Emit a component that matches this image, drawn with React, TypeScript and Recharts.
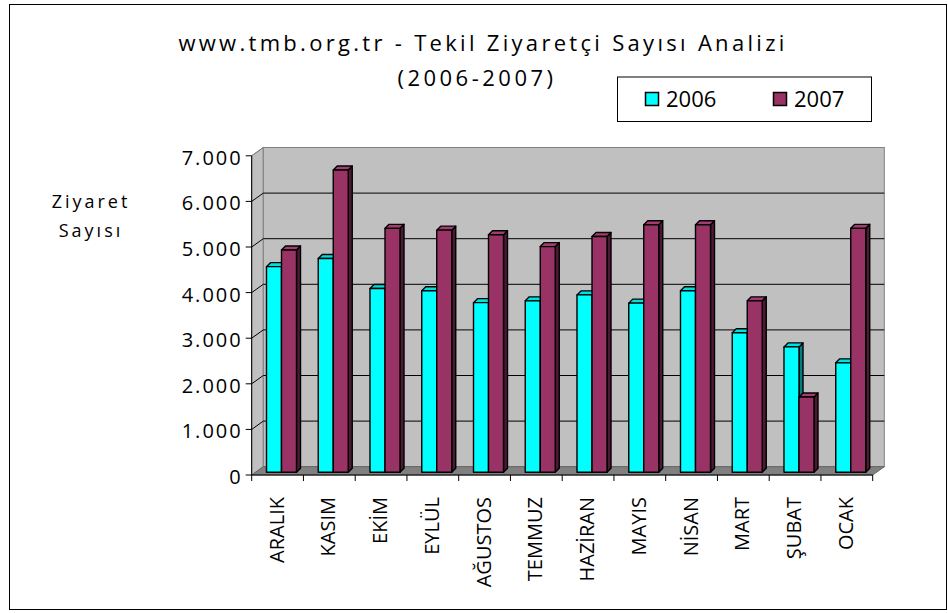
import { BarChart, Bar, XAxis, YAxis, CartesianGrid } from "recharts";

const MONTHS = ["ARALIK", "KASIM", "EKİM", "EYLÜL", "AĞUSTOS", "TEMMUZ", "HAZİRAN", "MAYIS", "NİSAN", "MART", "ŞUBAT", "OCAK"];
const V2006 = [4510, 4690, 4030, 3980, 3720, 3760, 3890, 3710, 3980, 3060, 2750, 2400];
const V2007 = [4875, 6630, 5350, 5310, 5210, 4950, 5170, 5430, 5430, 3760, 1650, 5350];
const Y_TICKS = [0, 1000, 2000, 3000, 4000, 5000, 6000, 7000];

const TITLE = "www.tmb.org.tr - Tekil Ziyaretçi Sayısı Analizi";
const SUBTITLE = "(2006-2007)";
const Y_TITLE = ["Ziyaret", "Sayısı"];

const SERIES = [
  { key: "y2006", name: "2006", front: "#00ffff", top: "#00e0e0", side: "#008080" },
  { key: "y2007", name: "2007", front: "#993366", top: "#a33d6f", side: "#4d1a33" },
];

const data = MONTHS.map((m, i) => ({ month: m, y2006: V2006[i], y2007: V2007[i] }));

const W = 948, H = 613;
// plot area of the bars' plane
const PLOT_L = 255.5, PLOT_R = 876.5, PLOT_B = 472.3;
// 3d offsets, relative to the bars' plane
const FX = -3.8, FY = 2.7; // front (axes)
const BX = 7.8, BY = -5.6; // back wall
const DX = 4, DY = -4; // bar depth
const FONT = '"Open Sans", sans-serif';

const fmt = (v: number) => String(v).replace(/\B(?=(\d{3})+(?!\d))/g, ".");

function bar3d(s: (typeof SERIES)[0]) {
  return (p: any) => {
    const { x, y, width: w, height: h } = p;
    if (!h || h <= 0) return <g />;
    return (
      <g stroke="#000" strokeWidth={1.4} strokeLinejoin="round">
        <polygon points={`${x + w},${y} ${x + w + DX},${y + DY} ${x + w + DX},${y + h + DY} ${x + w},${y + h}`} fill={s.side} />
        <polygon points={`${x},${y} ${x + DX},${y + DY} ${x + w + DX},${y + DY} ${x + w},${y}`} fill={s.top} />
        <rect x={x} y={y} width={w} height={h} fill={s.front} />
      </g>
    );
  };
}

function Walls({ x, y, width, height }: any) {
  const b = y + height;
  const r = x + width;
  return (
    <g>
      <polygon points={`${x + FX},${y + FY} ${x + BX},${y + BY} ${x + BX},${b + BY} ${x + FX},${b + FY}`} fill="#c0c0c0" stroke="#808080" />
      <rect x={x + BX} y={y + BY} width={width} height={height} fill="#c0c0c0" stroke="#808080" />
      <polygon points={`${x + FX},${b + FY} ${x + BX},${b + BY} ${r + BX},${b + BY} ${r + FX},${b + FY}`} fill="#808080" stroke="#666" />
      <line x1={x + FX} y1={b + FY} x2={x + FX} y2={y + FY} stroke="#000" />
      <line x1={x + FX} y1={b + FY} x2={r + FX} y2={b + FY} stroke="#000" />
    </g>
  );
}

function gridLine(p: any) {
  const { x1, x2, y1, index, y, height } = p;
  const isTop = Math.abs(y1 - y) < 0.5;
  const isBottom = Math.abs(y1 - (y + height)) < 0.5;
  const c = isTop ? "#808080" : "#000";
  return (
    <g key={`gl-${index}`}>
      {index === 0 && <Walls {...p} />}
      {!isBottom && <line x1={x1 + BX} y1={y1 + BY} x2={x2 + BX} y2={y1 + BY} stroke={c} />}
      {!isBottom && <line x1={x1 + FX} y1={y1 + FY} x2={x1 + BX} y2={y1 + BY} stroke={c} />}
    </g>
  );
}

function YTick(p: any) {
  const yF = p.y + FY;
  const xF = PLOT_L + FX;
  return (
    <g>
      <line x1={xF - 6} y1={yF} x2={xF} y2={yF} stroke="#000" />
      <text x={xF - 9} y={yF + 9} textAnchor="end" fontSize={20} letterSpacing={2} fill="#000">{fmt(p.payload.value)}</text>
    </g>
  );
}

function XTick(p: any) {
  const band = (PLOT_R - PLOT_L) / MONTHS.length;
  const cx = p.x + FX;
  const left = cx - band / 2;
  const yA = PLOT_B + FY;
  return (
    <g>
      <line x1={left} y1={yA} x2={left} y2={yA + 6} stroke="#000" />
      {p.index === MONTHS.length - 1 && <line x1={left + band} y1={yA} x2={left + band} y2={yA + 6} stroke="#000" />}
      <text transform={`translate(${cx + 6},${yA + 22}) rotate(-90)`} textAnchor="end" fontSize={20} fill="#000">{p.payload.value}</text>
    </g>
  );
}

export default function App() {
  return (
    <div style={{ position: "absolute", left: 0, top: 0, width: W, height: H, background: "#fff", fontFamily: FONT }}>
      <BarChart width={W} height={H} data={data} barSize={15} barGap={0}
        margin={{ top: 153.1, right: 71.5, bottom: 110.7, left: 195.5 }}>
        <CartesianGrid vertical={false} horizontal={gridLine} />
        <XAxis dataKey="month" height={30} interval={0} tickLine={false} axisLine={false} tick={(p: any) => <XTick {...p} />} />
        <YAxis type="number" width={60} domain={[0, 7000]} ticks={Y_TICKS} interval={0} tickLine={false} axisLine={false} tick={(p: any) => <YTick {...p} />} />
        {SERIES.map((s) => (
          <Bar key={s.key} dataKey={s.key} name={s.name} fill={s.front} shape={bar3d(s)} isAnimationActive={false} />
        ))}
      </BarChart>
      <svg width={W} height={H} style={{ position: "absolute", left: 0, top: 0, pointerEvents: "none" }}>
        <rect x={9.5} y={4.5} width={937} height={605} fill="none" stroke="#000" />
        <text x={483} y={51} textAnchor="middle" fontSize={22} letterSpacing={3.3} fill="#000">{TITLE}</text>
        <text x={477} y={85.5} textAnchor="middle" fontSize={22} letterSpacing={3.5} fill="#000">{SUBTITLE}</text>
        <text x={91} y={208} textAnchor="middle" fontSize={18} letterSpacing={3} fill="#000">{Y_TITLE[0]}</text>
        <text x={91} y={237} textAnchor="middle" fontSize={18} letterSpacing={3} fill="#000">{Y_TITLE[1]}</text>
        <rect x={617.5} y={77} width={254} height={44.5} fill="#fff" stroke="#000" />
        {SERIES.map((s, i) => (
          <g key={s.key}>
            <rect x={645.5 + i * 128} y={92.5} width={13} height={13} fill={s.front} stroke="#000" strokeWidth={1.5} />
            <text x={666 + i * 128} y={107} fontSize={22} fill="#000">{s.name}</text>
          </g>
        ))}
      </svg>
    </div>
  );
}
